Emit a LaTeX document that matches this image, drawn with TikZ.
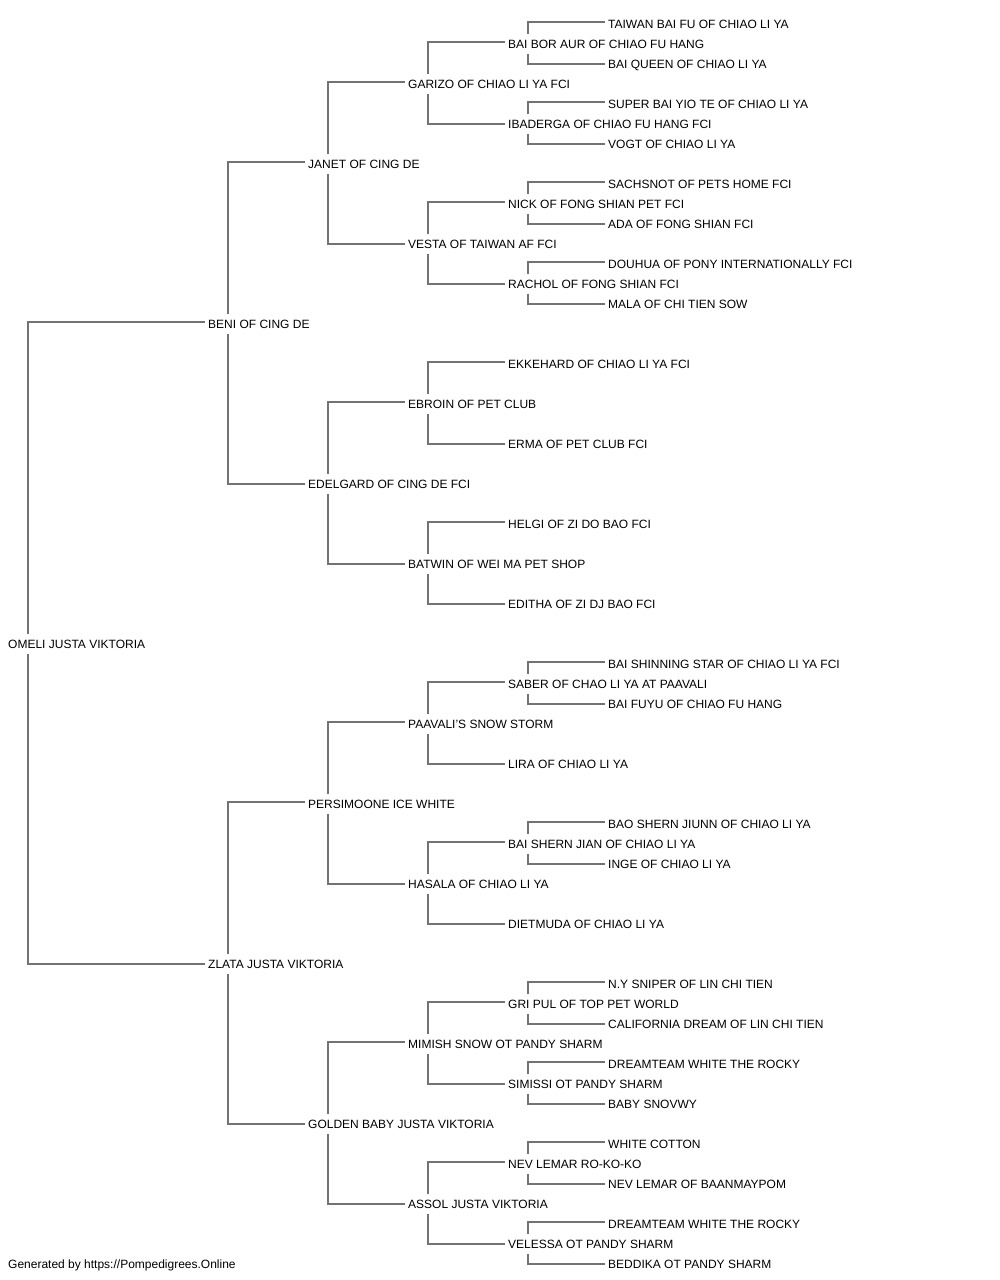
\documentclass[tikz,border=0pt]{standalone}
\usepackage{fontspec}
\setmainfont{Liberation Sans}
\begin{document}
\begin{tikzpicture}[x=1pt,y=-1pt,
  lbl/.style={anchor=west,inner sep=0pt,text height=8.6pt,text depth=0pt,font=\fontsize{12}{14}\selectfont,text=black},
  conn/.style={draw=black!55,line width=1.3pt}]
\useasboundingbox (0,0) rectangle (1000,1280);
\newcommand\pednode[4]{\node[lbl] (n#1) at (#2,{24+20*#1}) {#4};}
\newcommand\pedkids[3]{%
  \draw[conn] ([xshift=20pt,yshift=10pt]n#1.west) |- ([xshift=-3pt,yshift=2pt]n#2.west);
  \draw[conn] ([xshift=20pt,yshift=-10pt]n#1.west) |- ([xshift=-3pt]n#3.west);}
% generation 0
\pednode{31}{8}{}{OMELI JUSTA VIKTORIA}
% generation 1
\pednode{15}{208}{}{BENI OF CING DE}
\pednode{47}{208}{}{ZLATA JUSTA VIKTORIA}
% generation 2
\pednode{7}{308}{}{JANET OF CING DE}
\pednode{23}{308}{}{EDELGARD OF CING DE FCI}
\pednode{39}{308}{}{PERSIMOONE ICE WHITE}
\pednode{55}{308}{}{GOLDEN BABY JUSTA VIKTORIA}
% generation 3
\pednode{3}{408}{}{GARIZO OF CHIAO LI YA FCI}
\pednode{11}{408}{}{VESTA OF TAIWAN AF FCI}
\pednode{19}{408}{}{EBROIN OF PET CLUB}
\pednode{27}{408}{}{BATWIN OF WEI MA PET SHOP}
\pednode{35}{408}{}{PAAVALI{\char"27}S SNOW STORM}
\pednode{43}{408}{}{HASALA OF CHIAO LI YA}
\pednode{51}{408}{}{MIMISH SNOW OT PANDY SHARM}
\pednode{59}{408}{}{ASSOL JUSTA VIKTORIA}
% generation 4
\pednode{1}{508}{}{BAI BOR AUR OF CHIAO FU HANG}
\pednode{5}{508}{}{IBADERGA OF CHIAO FU HANG FCI}
\pednode{9}{508}{}{NICK OF FONG SHIAN PET FCI}
\pednode{13}{508}{}{RACHOL OF FONG SHIAN FCI}
\pednode{17}{508}{}{EKKEHARD OF CHIAO LI YA FCI}
\pednode{21}{508}{}{ERMA OF PET CLUB FCI}
\pednode{25}{508}{}{HELGI OF ZI DO BAO FCI}
\pednode{29}{508}{}{EDITHA OF ZI DJ BAO FCI}
\pednode{33}{508}{}{SABER OF CHAO LI YA AT PAAVALI}
\pednode{37}{508}{}{LIRA OF CHIAO LI YA}
\pednode{41}{508}{}{BAI SHERN JIAN OF CHIAO LI YA}
\pednode{45}{508}{}{DIETMUDA OF CHIAO LI YA}
\pednode{49}{508}{}{GRI PUL OF TOP PET WORLD}
\pednode{53}{508}{}{SIMISSI OT PANDY SHARM}
\pednode{57}{508}{}{NEV LEMAR RO-KO-KO}
\pednode{61}{508}{}{VELESSA OT PANDY SHARM}
% generation 5
\pednode{0}{608}{}{TAIWAN BAI FU OF CHIAO LI YA}
\pednode{2}{608}{}{BAI QUEEN OF CHIAO LI YA}
\pednode{4}{608}{}{SUPER BAI YIO TE OF CHIAO LI YA}
\pednode{6}{608}{}{VOGT OF CHIAO LI YA}
\pednode{8}{608}{}{SACHSNOT OF PETS HOME FCI}
\pednode{10}{608}{}{ADA OF FONG SHIAN FCI}
\pednode{12}{608}{}{DOUHUA OF PONY INTERNATIONALLY FCI}
\pednode{14}{608}{}{MALA OF CHI TIEN SOW}
\pednode{32}{608}{}{BAI SHINNING STAR OF CHIAO LI YA FCI}
\pednode{34}{608}{}{BAI FUYU OF CHIAO FU HANG}
\pednode{40}{608}{}{BAO SHERN JIUNN OF CHIAO LI YA}
\pednode{42}{608}{}{INGE OF CHIAO LI YA}
\pednode{48}{608}{}{N.Y SNIPER OF LIN CHI TIEN}
\pednode{50}{608}{}{CALIFORNIA DREAM OF LIN CHI TIEN}
\pednode{52}{608}{}{DREAMTEAM WHITE THE ROCKY}
\pednode{54}{608}{}{BABY SNOVWY}
\pednode{56}{608}{}{WHITE COTTON}
\pednode{58}{608}{}{NEV LEMAR OF BAANMAYPOM}
\pednode{60}{608}{}{DREAMTEAM WHITE THE ROCKY}
\pednode{62}{608}{}{BEDDIKA OT PANDY SHARM}
% footer
\node[lbl] (foot) at (8,1264) {Generated by https://Pompedigrees.Online};
% connectors
\pedkids{31}{15}{47}
\pedkids{15}{7}{23}
\pedkids{47}{39}{55}
\pedkids{7}{3}{11}
\pedkids{23}{19}{27}
\pedkids{39}{35}{43}
\pedkids{55}{51}{59}
\pedkids{3}{1}{5}
\pedkids{11}{9}{13}
\pedkids{19}{17}{21}
\pedkids{27}{25}{29}
\pedkids{35}{33}{37}
\pedkids{43}{41}{45}
\pedkids{51}{49}{53}
\pedkids{59}{57}{61}
\pedkids{1}{0}{2}
\pedkids{5}{4}{6}
\pedkids{9}{8}{10}
\pedkids{13}{12}{14}
\pedkids{33}{32}{34}
\pedkids{41}{40}{42}
\pedkids{49}{48}{50}
\pedkids{53}{52}{54}
\pedkids{57}{56}{58}
\pedkids{61}{60}{62}
\end{tikzpicture}
\end{document}
